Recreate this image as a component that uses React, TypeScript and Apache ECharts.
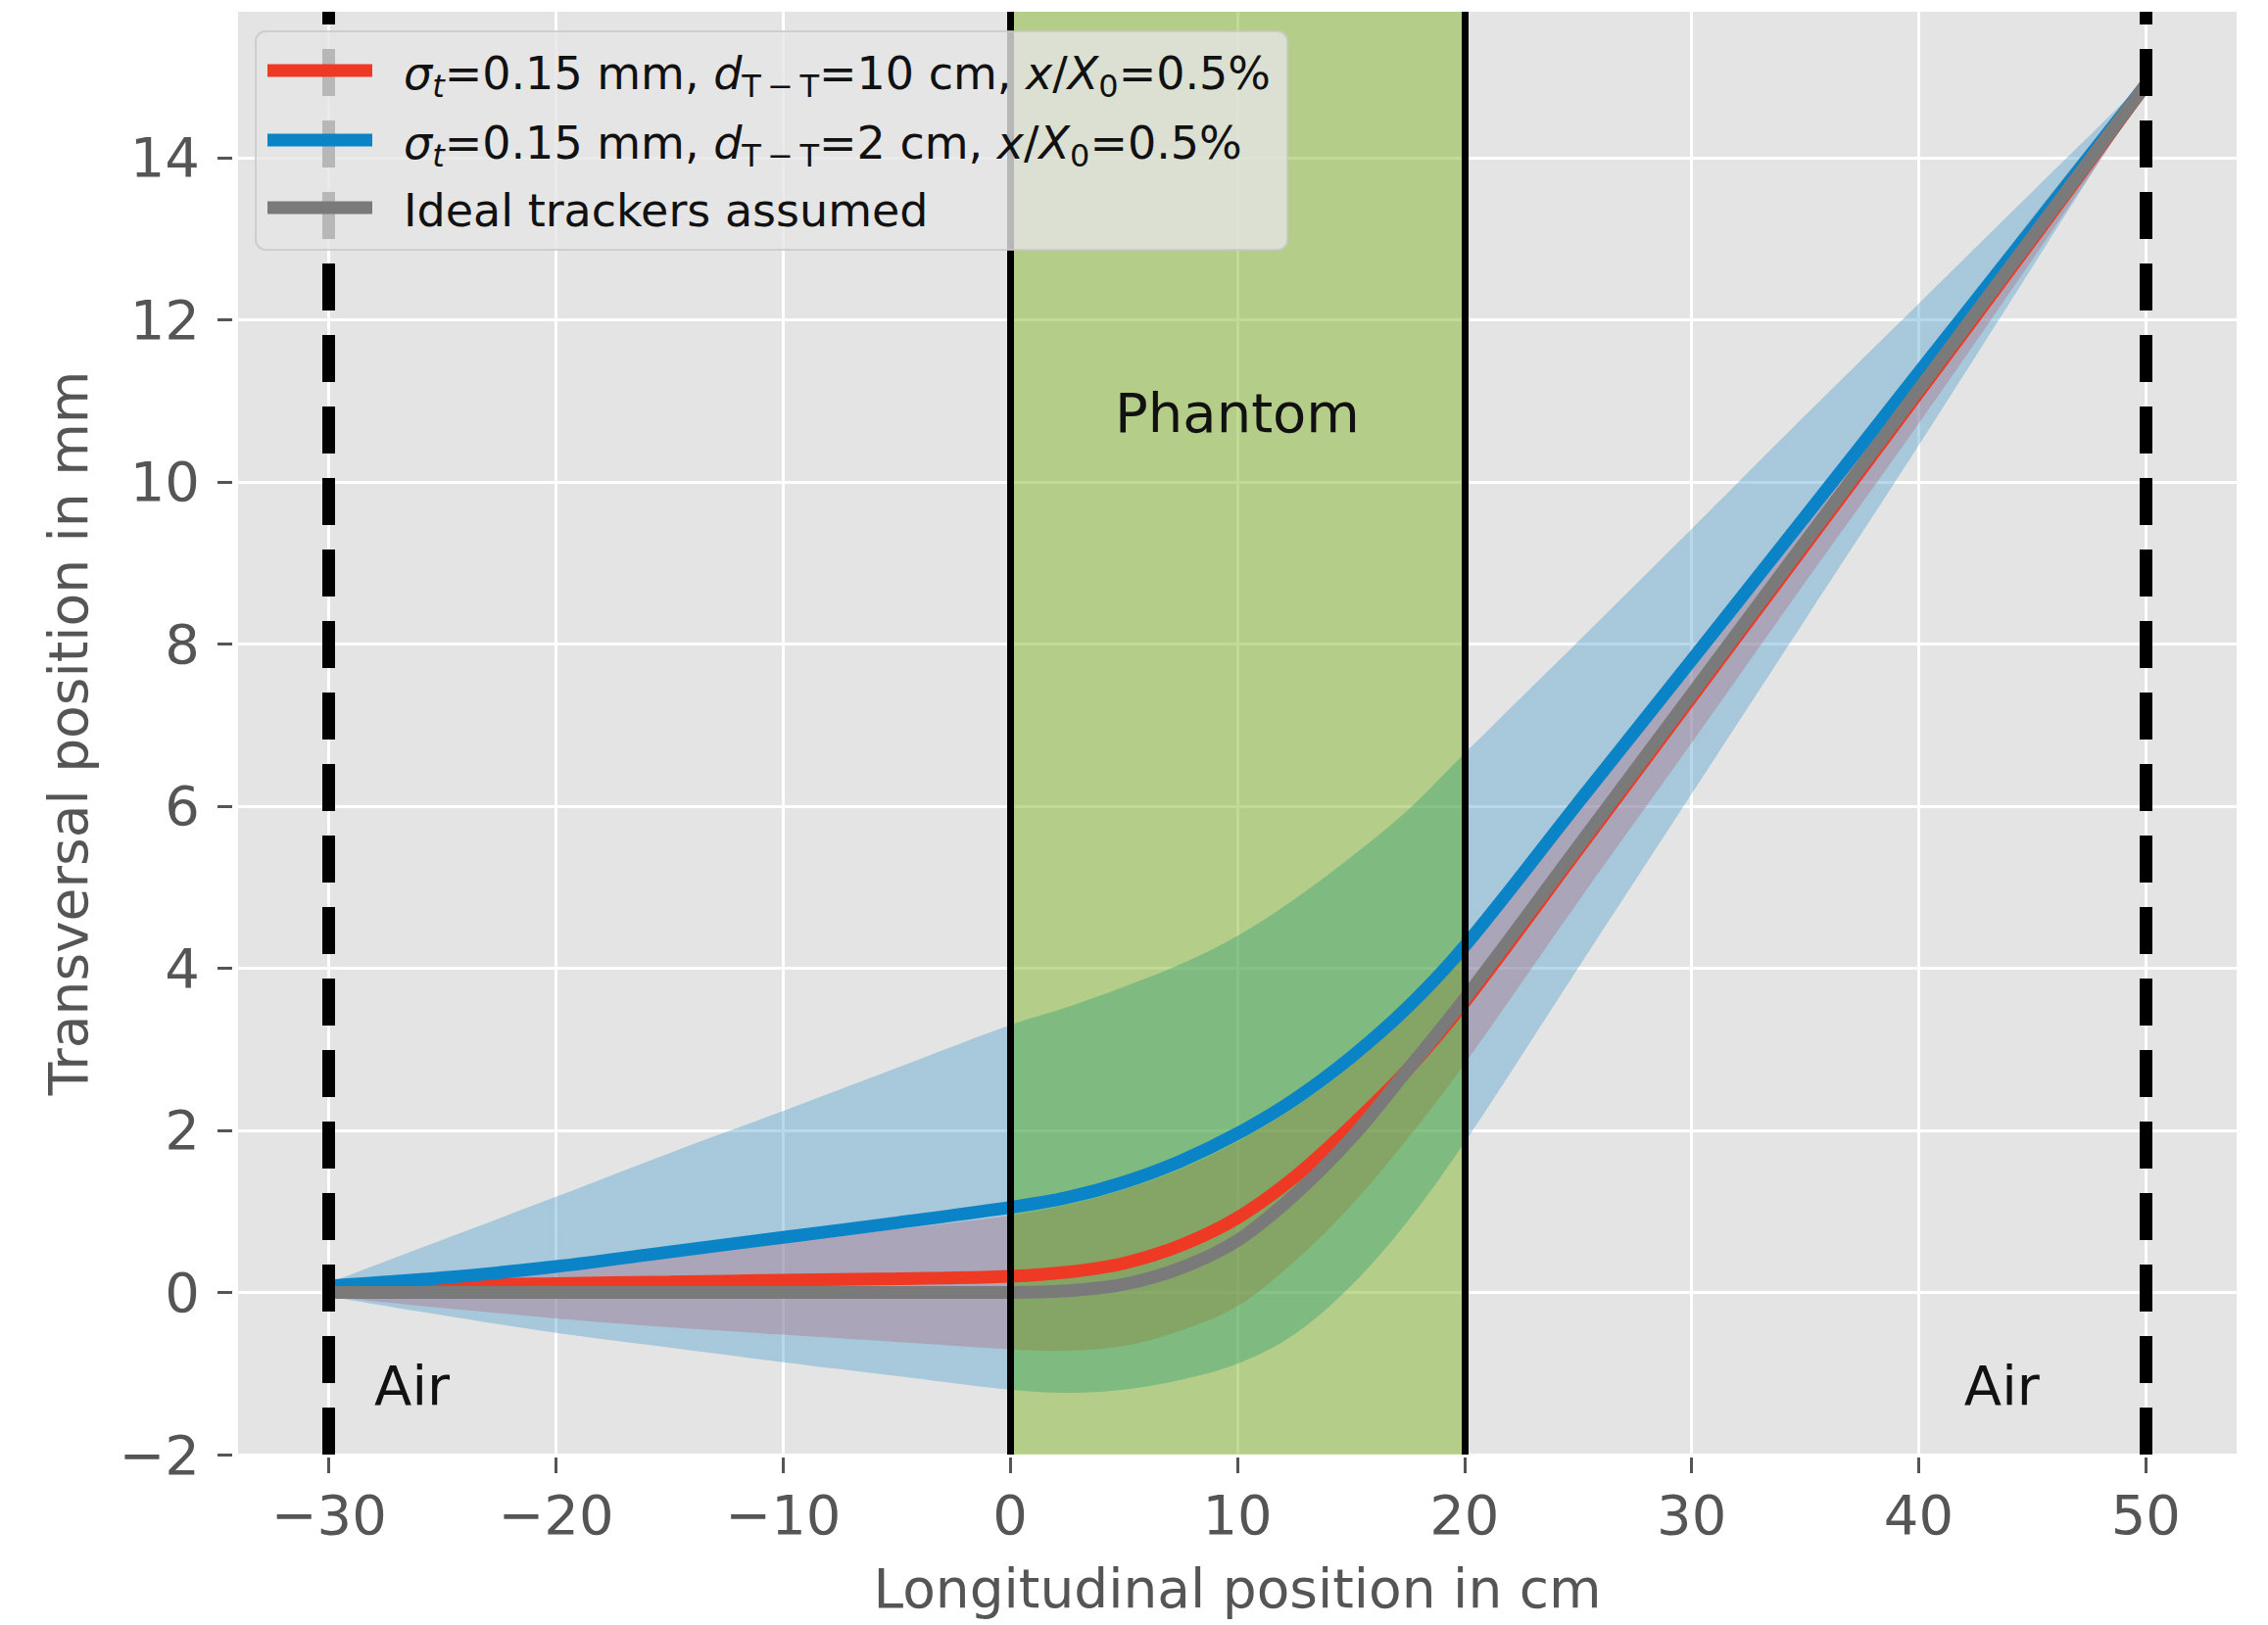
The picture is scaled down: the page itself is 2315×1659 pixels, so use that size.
import React, { useEffect, useRef } from "react";
import * as echarts from "echarts";

// ---------------- data ----------------
const xPos = [-30, -25, -20, -15, -10, -5, 0, 2.5, 5, 7.5, 10, 12.5, 15, 17.5, 20, 25, 30, 35, 40, 45, 50];
const redLine = [0.02, 0.08, 0.11, 0.13, 0.15, 0.17, 0.2, 0.25, 0.36, 0.58, 0.92, 1.42, 2.05, 2.75, 3.58, 5.46, 7.34, 9.22, 11.1, 12.99, 14.9];
const blueLine = [0.08, 0.18, 0.32, 0.5, 0.68, 0.86, 1.05, 1.17, 1.36, 1.62, 1.96, 2.38, 2.9, 3.52, 4.27, 6.04, 7.8, 9.57, 11.35, 13.12, 14.9];
const idealLine = [0, 0, 0, 0, 0, 0, 0, 0.02, 0.1, 0.3, 0.64, 1.2, 1.9, 2.75, 3.62, 5.5, 7.38, 9.26, 11.14, 13.02, 14.9];
const blueUpper = [0.12, 0.65, 1.18, 1.72, 2.24, 2.77, 3.3, 3.52, 3.77, 4.05, 4.4, 4.85, 5.37, 5.95, 6.65, 8.03, 9.42, 10.82, 12.2, 13.58, 14.95];
const blueLower = [-0.05, -0.28, -0.5, -0.68, -0.86, -1.03, -1.2, -1.24, -1.2, -1.08, -0.88, -0.52, 0.08, 0.88, 1.85, 4.0, 6.15, 8.3, 10.45, 12.65, 14.85];
const redUpper = [0.05, 0.15, 0.28, 0.45, 0.62, 0.78, 0.95, 1.08, 1.27, 1.52, 1.86, 2.28, 2.8, 3.42, 4.17, 5.98, 7.8, 9.62, 11.42, 13.26, 15.0];
const redLower = [-0.05, -0.19, -0.32, -0.43, -0.52, -0.61, -0.7, -0.72, -0.66, -0.47, -0.17, 0.38, 1.07, 1.9, 2.82, 4.82, 6.78, 8.76, 10.72, 12.74, 14.8];

const xTicks = [-30, -20, -10, 0, 10, 20, 30, 40, 50];
const yTicks = [-2, 0, 2, 4, 6, 8, 10, 12, 14];
const xRange = [-34, 54];
const yRange = [-2, 15.8];
const airBoundaries = [-30, 50];
const phantomEdges = [0, 20];

const legendLabels = [
  "{i|σ}{si|t}=0.15 mm, {i|d}{s|T\u2009−\u2009T}=10 cm, {i|x}/{i|X}{s|0}=0.5%",
  "{i|σ}{si|t}=0.15 mm, {i|d}{s|T\u2009−\u2009T}=2 cm, {i|x}/{i|X}{s|0}=0.5%",
  "Ideal trackers assumed",
];
const textLabels = ["Phantom", "Air", "Air"];
const xAxisName = "Longitudinal position in cm";
const yAxisName = "Transversal position in mm";

// ---------------- styling ----------------
const FONT = "DejaVu Sans";
const RED = "#EE3A24";
const BLUE = "#0A84C6";
const GRAY = "#7A7A7A";
const TICK = "#555555";
const SMOOTH = 0.35;

const fmt = (v: number) => (v < 0 ? "\u2212" + Math.abs(v) : String(v));

// smooth curve through pixel points (same control-point rule as ECharts' smooth line)
function curve(P: number[][], s: number, start: string): string {
  const n = P.length;
  const cps = P.map((p, i) => {
    const prev = P[Math.max(i - 1, 0)];
    const next = P[Math.min(i + 1, n - 1)];
    const vx = (next[0] - prev[0]) * s;
    const vy = (next[1] - prev[1]) * s;
    const d0 = Math.hypot(p[0] - prev[0], p[1] - prev[1]);
    const d1 = Math.hypot(next[0] - p[0], next[1] - p[1]);
    const sum = d0 + d1;
    const r = sum ? d1 / sum : 0.5;
    return { c0: [p[0] - vx * (1 - r), p[1] - vy * (1 - r)], c1: [p[0] + vx * r, p[1] + vy * r] };
  });
  let d = `${start}${P[0][0]} ${P[0][1]}`;
  for (let i = 0; i < n - 1; i++) {
    const a = cps[i].c1;
    const b = cps[i + 1].c0;
    const q = P[i + 1];
    d += ` C${a[0]} ${a[1]} ${b[0]} ${b[1]} ${q[0]} ${q[1]}`;
  }
  return d;
}

export default function App() {
  const ref = useRef<HTMLDivElement>(null);

  useEffect(() => {
    const el = ref.current;
    if (!el) return;
    const chart = echarts.init(el, null, { renderer: "svg" });

    const pts = (ys: number[]) => xPos.map((x, i) => [x, ys[i]]);
    const first = xPos[0];
    const last = xPos[xPos.length - 1];
    const p0 = (phantomEdges[0] - first) / (last - first);
    const p1 = (phantomEdges[1] - first) / (last - first);

    const bandSeries = (name: string, up: number[], lo: number[], outC: string, inC: string) => ({
      type: "custom",
      name,
      coordinateSystem: "cartesian2d",
      silent: true,
      z: 2,
      data: [[first, lo[0]]],
      renderItem: (_params: any, api: any) => {
        const U = xPos.map((x, i) => api.coord([x, up[i]]));
        const L = xPos.map((x, i) => api.coord([x, lo[i]])).reverse();
        const pathData = curve(U, SMOOTH, "M") + " " + curve(L, SMOOTH, "L") + " Z";
        const xa = api.coord([first, 0])[0];
        const xb = api.coord([last, 0])[0];
        const fill = new echarts.graphic.LinearGradient(
          xa,
          0,
          xb,
          0,
          [
            { offset: 0, color: outC },
            { offset: p0, color: outC },
            { offset: p0, color: inC },
            { offset: p1, color: inC },
            { offset: p1, color: outC },
            { offset: 1, color: outC },
          ],
          true
        );
        return { type: "path", shape: { pathData }, style: { fill, stroke: "none" } };
      },
    });

    const line = (name: string, data: number[][], color: string, z: number) => ({
      type: "line",
      name,
      data,
      smooth: SMOOTH,
      symbol: "none",
      silent: true,
      lineStyle: { color, width: 13, cap: "butt" },
      z,
    });

    const richBase = { fontFamily: FONT, fill: "#111111" };
    const rich = {
      i: { ...richBase, fontSize: 46, fontStyle: "italic", lineHeight: 58, verticalAlign: "middle" },
      s: { ...richBase, fontSize: 32, lineHeight: 32, verticalAlign: "bottom" },
      si: { ...richBase, fontSize: 32, fontStyle: "italic", lineHeight: 32, verticalAlign: "bottom" },
    };
    const legendColors = [RED, BLUE, GRAY];
    const legendY = [72, 143, 212];
    const legendChildren: any[] = [
      {
        type: "rect",
        z: 100,
        shape: { x: 261, y: 32, width: 1053, height: 223, r: 10 },
        style: { fill: "rgba(229,229,229,0.8)", stroke: "rgba(200,200,200,0.8)", lineWidth: 2 },
      },
    ];
    legendLabels.forEach((lab, k) => {
      legendChildren.push({
        type: "line",
        z: 101,
        shape: { x1: 273, y1: legendY[k], x2: 380, y2: legendY[k] },
        style: { stroke: legendColors[k], lineWidth: 13 },
      });
      legendChildren.push({
        type: "text",
        z: 101,
        x: 412,
        y: legendY[k] + 3,
        style: {
          text: lab,
          fill: "#111111",
          fontSize: 46,
          fontFamily: FONT,
          lineHeight: 58,
          align: "left",
          verticalAlign: "middle",
          rich,
        },
      });
    });

    const option: any = {
      animation: false,
      backgroundColor: "#ffffff",
      textStyle: { fontFamily: FONT },
      grid: {
        left: 243,
        top: 12,
        width: 2040,
        height: 1473,
        show: true,
        backgroundColor: "#E4E4E4",
        borderWidth: 0,
        containLabel: false,
        outerBoundsMode: "none",
      },
      xAxis: {
        type: "value",
        min: xRange[0],
        max: xRange[1],
        offset: 3,
        axisLine: { show: false, onZero: false },
        axisTick: { show: true, customValues: xTicks, length: 16, lineStyle: { color: TICK, width: 3 } },
        axisLabel: { customValues: xTicks, formatter: fmt, color: TICK, fontSize: 56, margin: 30, fontFamily: FONT },
        splitLine: { show: true, lineStyle: { color: "#ffffff", width: 3 } },
        name: xAxisName,
        nameLocation: "middle",
        nameGap: 106,
        nameTextStyle: { color: TICK, fontSize: 55, fontFamily: FONT },
      },
      yAxis: {
        type: "value",
        min: yRange[0],
        max: yRange[1],
        offset: 6,
        axisLine: { show: false, onZero: false },
        axisTick: { show: true, customValues: yTicks, length: 15, lineStyle: { color: TICK, width: 3 } },
        axisLabel: { customValues: yTicks, formatter: fmt, color: TICK, fontSize: 56, margin: 33, fontFamily: FONT },
        splitLine: { show: true, lineStyle: { color: "#ffffff", width: 3 } },
        name: yAxisName,
        nameLocation: "middle",
        nameGap: 140,
        nameRotate: 90,
        nameTextStyle: { color: TICK, fontSize: 55, fontFamily: FONT },
      },
      series: [
        {
          ...bandSeries("blueBand", blueUpper, blueLower, "rgba(77,157,204,0.4)", "rgba(48,158,114,0.4)"),
          markArea: {
            silent: true,
            z: 1,
            itemStyle: { color: "rgba(131,183,45,0.5)", borderWidth: 0 },
            data: [[{ xAxis: phantomEdges[0] }, { xAxis: phantomEdges[1] }]],
          },
        },
        bandSeries("redBand", redUpper, redLower, "rgba(173,112,131,0.4)", "rgba(140,132,63,0.4)"),
        line("red", pts(redLine), RED, 3),
        line("blue", pts(blueLine), BLUE, 4),
        {
          ...line("ideal", pts(idealLine), GRAY, 5),
          markLine: {
            silent: true,
            z: 6,
            symbol: ["none", "none"],
            label: { show: false },
            data: [
              ...airBoundaries.map((v) => ({
                xAxis: v,
                lineStyle: { type: [48, 25], width: 13, color: "#000000", cap: "butt" },
              })),
              ...phantomEdges.map((v) => ({
                xAxis: v,
                lineStyle: { type: "solid", width: 7, color: "#000000" },
              })),
            ],
          },
          markPoint: {
            silent: true,
            z: 7,
            symbol: "circle",
            symbolSize: 0,
            itemStyle: { color: "rgba(0,0,0,0)" },
            label: { show: true, formatter: "{b}", color: "#111111", fontSize: 56, fontFamily: FONT },
            data: [
              { name: textLabels[0], coord: [10, 10.85], label: { position: "inside" } },
              { name: textLabels[1], coord: [-28, -1.15], label: { position: "right", distance: 0 } },
              { name: textLabels[2], coord: [42, -1.15], label: { position: "right", distance: 0 } },
            ],
          },
        },
      ],
      graphic: [{ type: "group", z: 100, children: legendChildren }],
    };

    chart.setOption(option);
    return () => chart.dispose();
  }, []);

  return (
    <div
      ref={ref}
      style={{ position: "absolute", left: 0, top: 0, width: 2315, height: 1659, background: "#ffffff" }}
    />
  );
}
